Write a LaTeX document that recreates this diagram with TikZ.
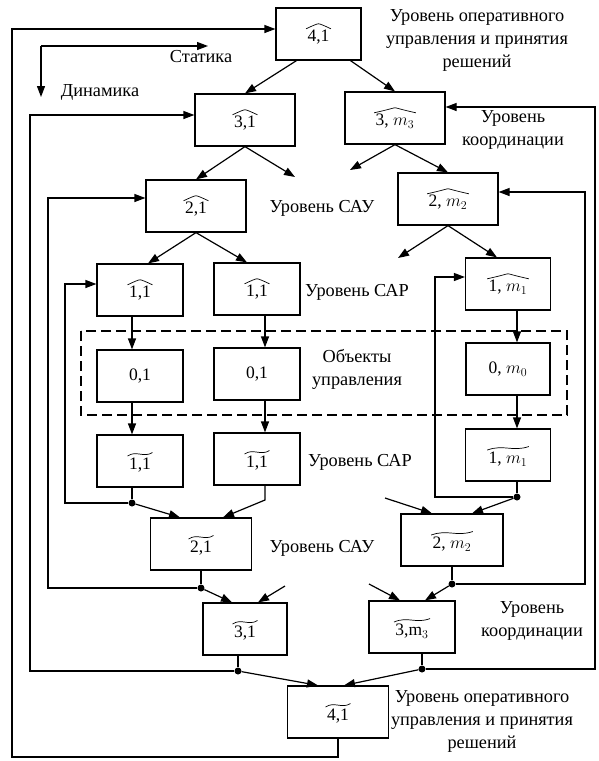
\documentclass[tikz,border=0pt]{standalone}
\usepackage{fontspec}
\setmainfont{Liberation Serif}
\usetikzlibrary{arrows.meta}
\tikzset{acc/.style={inner sep=0pt, outer sep=0pt, minimum width=0pt, minimum height=0pt, draw=none, fill=none}}
\newcommand\hb[1]{\tikz[baseline=(t.base)]{\node[acc] (t) {#1};
  \draw[line width=0.7pt] ([xshift=-1.5pt,yshift=1.5pt]t.north west)
    .. controls ([xshift=-5pt,yshift=5pt]t.north) and ([xshift=-1.5pt,yshift=6.5pt]t.north) .. ([yshift=6.5pt]t.north)
    .. controls ([xshift=1.5pt,yshift=6.5pt]t.north) and ([xshift=5pt,yshift=5pt]t.north) .. ([xshift=1.5pt,yshift=1.5pt]t.north east);}}
\newcommand\tb[1]{\tikz[baseline=(t.base)]{\node[acc] (t) {#1};
  \draw[line width=0.7pt] ([xshift=-1.5pt,yshift=2pt]t.north west)
    .. controls ([xshift=-4pt,yshift=8pt]t.north) and ([xshift=4pt,yshift=0pt]t.north) .. ([xshift=1.5pt,yshift=5.5pt]t.north east);}}
\tikzset{
  bx/.style={draw, line width=1.2pt, minimum width=#1, minimum height=52pt, inner sep=0pt,
    font=\fontsize{17.5}{20}\selectfont},
  bx/.default=100pt,
  ln/.style={line width=1.2pt},
  arr/.style={line width=1.2pt, -{Triangle[length=11pt,width=8pt]}},
  lbl/.style={align=center, font=\fontsize{18.3}{23}\selectfont, inner sep=0pt},
  dot/.style={circle, fill, inner sep=0pt, minimum size=7pt},
}
\begin{document}
\begin{tikzpicture}[x=1pt,y=-1pt]
\useasboundingbox (0,0) rectangle (598,761);
% boxes
\node[bx=85pt] (H41) at (318.5,34) {\hb{4,1}};
\node[bx] (H31) at (245,120) {\hb{3,1}};
\node[bx] (H3m) at (395,118) {\hb{3, $m_3$}};
\node[bx] (H21) at (196,206) {\hb{2,1}};
\node[bx] (H2m) at (448,199) {\hb{2, $m_2$}};
\node[bx=86pt] (H11a) at (140,290) {\hb{1,1}};
\node[bx=86pt] (H11b) at (257,289) {\hb{1,1}};
\node[bx=85pt] (H1m) at (508,284) {\hb{1, $m_1$}};
\node[bx=86pt] (O1a) at (140,376) {0,1};
\node[bx=86pt] (O1b) at (257,374) {0,1};
\node[bx=84pt] (Om) at (508,369) {0, $m_0$};
\node[bx=86pt] (T11a) at (140,461) {\tb{1,1}};
\node[bx=86pt] (T11b) at (257,459) {\tb{1,1}};
\node[bx=85pt] (T1m) at (508,455) {\tb{1, $m_1$}};
\node[bx=101pt] (T21) at (201,544) {\tb{2,1}};
\node[bx=102pt] (T2m) at (452,540) {\tb{2, $m_2$}};
\node[bx=84pt] (T31) at (245,629) {\tb{3,1}};
\node[bx=86pt] (T3m) at (412,627) {\tb{3,m$_3$}};
\node[bx=101pt] (T41) at (338,712) {\tb{4,1}};
% dashed frame
\draw[line width=1.2pt, dash pattern=on 10pt off 5pt] (81,331) rectangle (567,415);
% labels
\node[lbl] (L1) at (477,40) {Уровень оперативного\\управления и принятия\\решений};
\node[lbl] (L2) at (513,130) {Уровень\\координации};
\node[lbl] (L3) at (322,208) {Уровень САУ};
\node[lbl] (L4) at (357,292) {Уровень САР};
\node[lbl] (L5) at (357,369) {Объекты\\управления};
\node[lbl] (L6) at (360,462) {Уровень САР};
\node[lbl] (L7) at (322,548) {Уровень САУ};
\node[lbl] (L8) at (532,621) {Уровень\\координации};
\node[lbl] (L9) at (482,721) {Уровень оперативного\\управления и принятия\\решений};
\node[lbl] (LS) at (201,57) {Статика};
\node[lbl] (LD) at (100,92) {Динамика};
% static/dynamic legend
\coordinate (sc) at (41,46);
\coordinate (se) at (208,46);
\coordinate (de) at (41,97);
\draw[arr] (sc) -- (se);
\draw[arr] (sc) -- (de);
% top-down arrows
\draw[arr] ([xshift=-22pt]H41.south) -- (H31.north);
\draw[arr] ([xshift=32pt]H41.south) -- (H3m.north);
\coordinate (s31) at (295,177);
\draw[arr] (H31.south) -- (H21.north);
\draw[arr] (H31.south) -- (s31);
\coordinate (s3m) at (350,170);
\draw[arr] (H3m.south) -- (s3m);
\draw[arr] (H3m.south) -- (H2m.north);
\draw[arr] (H21.south) -- ([xshift=8pt]H11a.north);
\draw[arr] (H21.south) -- ([xshift=-10pt]H11b.north);
\coordinate (s2m) at (398,258);
\draw[arr] (H2m.south) -- (s2m);
\draw[arr] (H2m.south) -- ([xshift=-11pt]H1m.north);
% vertical chains
\draw[arr] ([xshift=-8pt]H11a.south) -- ([xshift=-8pt]O1a.north);
\draw[arr] ([xshift=8pt]H11b.south) -- ([xshift=8pt]O1b.north);
\draw[arr] ([xshift=9pt]H1m.south) -- ([xshift=9pt]Om.north);
\draw[arr] ([xshift=-8pt]O1a.south) -- ([xshift=-8pt]T11a.north);
\draw[arr] ([xshift=8pt]O1b.south) -- ([xshift=8pt]T11b.north);
\draw[arr] ([xshift=9pt]Om.south) -- ([xshift=9pt]T1m.north);
% SAR feedback level
\node[dot] (dA) at (132,503) {};
\draw[ln] ([xshift=-8pt]T11a.south) -- (dA);
\draw[arr] (dA) -- ([xshift=-21pt]T21.north);
\draw[arr] (dA) -- (65,503) |- ([yshift=6pt]H11a.west);
\coordinate (bB) at (265,500);
\draw[arr] ([xshift=8pt]T11b.south) -- (bB) -- ([xshift=22pt]T21.north);
\node[dot] (dM) at (517,497) {};
\draw[ln] ([xshift=9pt]T1m.south) -- (dM);
\draw[arr] (dM) -- ([xshift=20pt]T2m.north);
\draw[arr] (dM) -- (435,497) |- ([yshift=7pt]H1m.west);
\coordinate (s4) at (385,498);
\draw[arr] (s4) -- ([xshift=-20pt]T2m.north);
% SAU feedback level
\node[dot] (d2) at (201,588) {};
\draw[ln] (T21.south) -- (d2);
\draw[arr] (d2) -- ([xshift=-13pt]T31.north);
\draw[arr] (d2) -- (48,588) |- ([yshift=8pt]H21.west);
\coordinate (s5) at (285,586);
\draw[arr] (s5) -- ([xshift=13pt]T31.north);
\node[dot] (d2m) at (452,584) {};
\draw[ln] (T2m.south) -- (d2m);
\draw[arr] (d2m) -- ([xshift=13pt]T3m.north);
\draw[arr] (d2m) -- (585,584) |- ([yshift=7pt]H2m.east);
\coordinate (s6) at (369,584);
\draw[arr] (s6) -- ([xshift=-12pt]T3m.north);
% coordination feedback level
\node[dot] (d3) at (238,671) {};
\draw[ln] ([xshift=-7pt]T31.south) -- (d3);
\draw[arr] (d3) -- ([xshift=-20pt]T41.north);
\draw[arr] (d3) -- (30,671) |- ([yshift=5pt]H31.west);
\node[dot] (d3m) at (422,669) {};
\draw[ln] ([xshift=10pt]T3m.south) -- (d3m);
\draw[arr] (d3m) -- ([xshift=6pt]T41.north);
\draw[arr] (d3m) -- (595,669) |- ([yshift=11pt]H3m.east);
% top level feedback
\draw[arr] (T41.south) -- (338,757) -| (12,100) |- ([yshift=5pt]H41.west);
\end{tikzpicture}
\end{document}
